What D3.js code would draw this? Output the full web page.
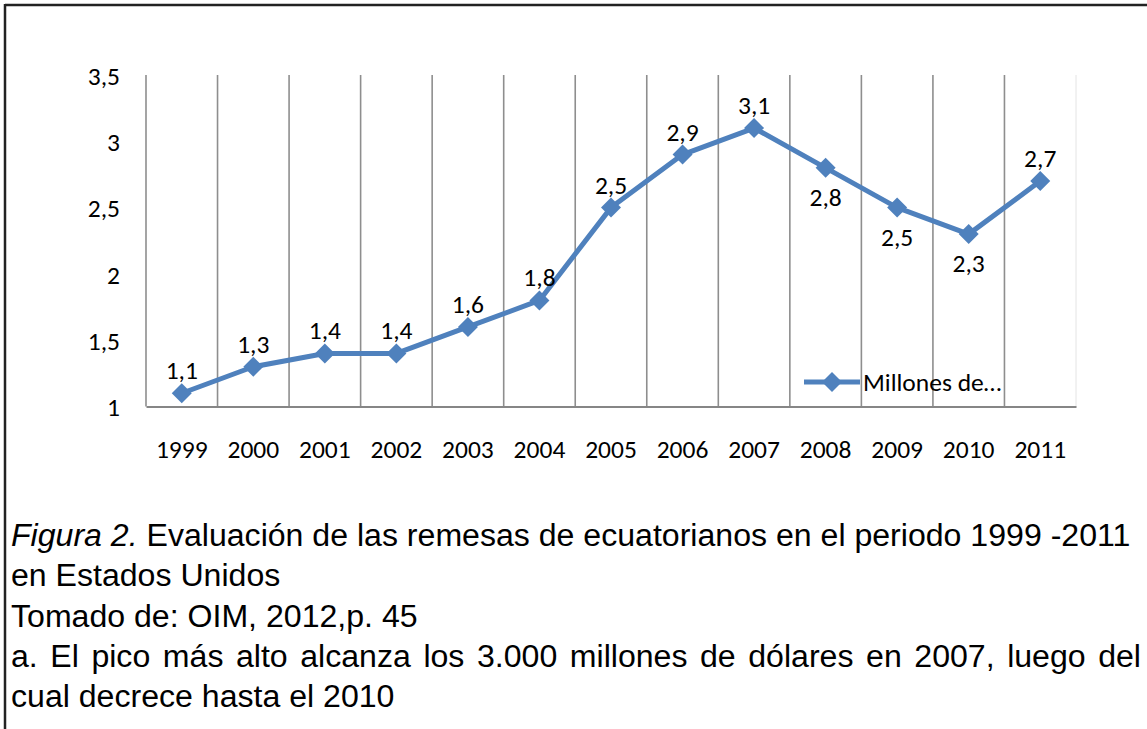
<!DOCTYPE html>
<html>
<head>
<meta charset="utf-8">
<script src="https://cdn.jsdelivr.net/npm/d3@7"></script>
<style>
  html, body { margin: 0; padding: 0; background: #fff; }
  svg { display: block; }
</style>
</head>
<body>
<svg id="chart" width="1147" height="729"></svg>
<script>
const years = ["1999","2000","2001","2002","2003","2004","2005","2006","2007","2008","2009","2010","2011"];
const values = [1.1, 1.3, 1.4, 1.4, 1.6, 1.8, 2.5, 2.9, 3.1, 2.8, 2.5, 2.3, 2.7];
const labelBelow = [false,false,false,false,false,false,false,false,false,true,true,true,false];
const yTicks = [1, 1.5, 2, 2.5, 3, 3.5];
const seriesName = "Millones de…";
const captionLines = [
  [{t:"Figura 2.", i:true},{t:" Evaluación de las remesas de ecuatorianos en el periodo 1999 -2011", i:false}],
  [{t:"en Estados Unidos", i:false}],
  [{t:"Tomado de: OIM, 2012,p. 45", i:false}],
  [{t:"a. El pico más alto alcanza los 3.000 millones de dólares en 2007, luego del", i:false, justify:true}],
  [{t:"cual decrece hasta el 2010", i:false}]
];

(function () {
const svg = d3.select("#chart");
const chartFont = "Carlito, Calibri, Lato, sans-serif";
const capFont = "'Liberation Sans', Arial, sans-serif";
const fs = 25.5;
const blue = "#4F81BD";
const loc = d3.formatLocale({decimal: ",", thousands: ".", grouping: [3], currency: ["", ""]});
const fmt = v => loc.format(",")(v);

// frame border
svg.append("line").attr("x1", 5).attr("x2", 1147).attr("y1", 5).attr("y2", 5)
  .attr("stroke", "#222").attr("stroke-width", 2.5);
svg.append("line").attr("x1", 5).attr("x2", 5).attr("y1", 4).attr("y2", 729)
  .attr("stroke", "#222").attr("stroke-width", 2.5);

const pLeft = 146, pRight = 1076, pTop = 75, pBottom = 406.5;
const x = d3.scaleBand().domain(years).range([pLeft, pRight]).padding(0);
const y = d3.scaleLinear().domain([1, 3.5]).range([pBottom, pTop]);

// vertical gridlines at category boundaries
const g = svg.append("g");
years.forEach(yr => {
  g.append("line").attr("x1", x(yr)).attr("x2", x(yr)).attr("y1", pTop).attr("y2", pBottom)
    .attr("stroke", "#8e8e8e").attr("stroke-width", 1.6);
});
g.append("line").attr("x1", pRight).attr("x2", pRight).attr("y1", pTop).attr("y2", pBottom)
  .attr("stroke", "#e4e4e4").attr("stroke-width", 1);

// x axis
const xAxis = svg.append("g").attr("transform", `translate(0,${pBottom})`)
  .call(d3.axisBottom(x).tickSize(0).tickPadding(0));
xAxis.select(".domain").attr("stroke", "#868686").attr("stroke-width", 2);
xAxis.selectAll("text").attr("font-family", chartFont).attr("font-size", fs)
  .attr("fill", "#000").attr("y", 51).attr("dy", 0);

// y axis
const yAxis = svg.append("g").attr("transform", `translate(${pLeft},0)`)
  .call(d3.axisLeft(y).tickValues(yTicks).tickSize(0).tickPadding(26).tickFormat(fmt));
yAxis.select(".domain").remove();
yAxis.selectAll("text").attr("font-family", chartFont).attr("font-size", fs)
  .attr("fill", "#000").attr("dy", "0.36em");

// line
const cx = d => x(d.year) + x.bandwidth() / 2;
const data = years.map((yr, i) => ({year: yr, value: values[i], below: labelBelow[i]}));
const lineGen = d3.line().x(cx).y(d => y(d.value));
svg.append("path").datum(data).attr("d", lineGen).attr("fill", "none")
  .attr("stroke", blue).attr("stroke-width", 5).attr("stroke-linejoin", "round");

const diamond = d3.symbol().type(d3.symbolSquare).size(200);
svg.selectAll(".mk").data(data).enter().append("path")
  .attr("d", diamond)
  .attr("transform", d => `translate(${cx(d)},${y(d.value)}) rotate(45)`)
  .attr("fill", blue);

svg.selectAll(".lbl").data(data).enter().append("text")
  .attr("x", cx)
  .attr("y", d => y(d.value) + (d.below ? 38 : -14))
  .attr("text-anchor", "middle")
  .attr("font-family", chartFont).attr("font-size", fs).attr("fill", "#000")
  .text(d => fmt(d.value));

// legend
const lg = svg.append("g").attr("transform", "translate(804,382)");
lg.append("line").attr("x1", 0).attr("x2", 56).attr("y1", 0).attr("y2", 0)
  .attr("stroke", blue).attr("stroke-width", 5);
lg.append("path").attr("d", diamond).attr("transform", "translate(28,0) rotate(45)").attr("fill", blue);
lg.append("text").attr("x", 59).attr("y", 0).attr("dy", "0.36em")
  .attr("font-family", chartFont).attr("font-size", fs).attr("fill", "#000").text(seriesName);

// caption
const baselines = [546, 586, 627, 667, 707];
captionLines.forEach((parts, li) => {
  const t = svg.append("text").attr("x", 11).attr("y", baselines[li])
    .attr("font-family", capFont).attr("font-size", 32.1).attr("fill", "#000")
    .attr("xml:space", "preserve");
  parts.forEach(p => {
    t.append("tspan").attr("font-style", p.i ? "italic" : "normal").text(p.t);
  });
  if (parts[0].justify) {
    const natural = t.node().getComputedTextLength();
    const spaces = (parts[0].t.match(/ /g) || []).length;
    const target = 1141 - 11;
    t.attr("word-spacing", (target - natural) / spaces);
  }
});
})();
</script>
</body>
</html>
